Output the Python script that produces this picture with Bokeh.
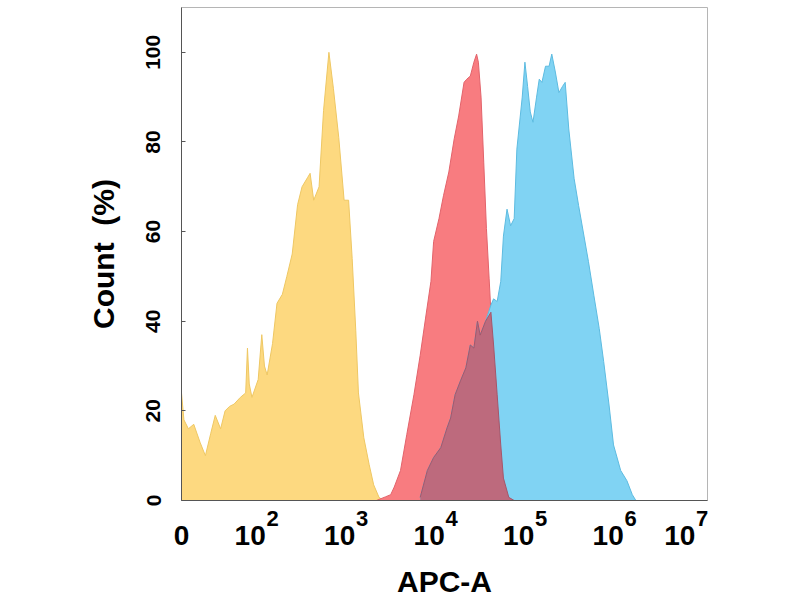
from bokeh.plotting import figure
from bokeh.models import Range1d, FixedTicker, LinearAxis
from bokeh.embed import file_html
from bokeh.resources import INLINE

# x is in decades (log10 of APC-A), y is count in % of the mode
zero_pos = 1.123
decades = [2, 3, 4, 5, 6, 7]
tick_base = "10"
tick_exps = ["2", "3", "4", "5", "6", "7"]
y_ticks = [0, 20, 40, 60, 80, 100]

# isotype / negative control (yellow)
neg_x = [1.123, 1.15, 1.20, 1.26, 1.33, 1.39, 1.45, 1.50, 1.56, 1.61, 1.66, 1.71,
         1.78, 1.84, 1.86, 1.88, 1.91, 1.98, 2.02, 2.05, 2.08, 2.14, 2.19, 2.25,
         2.30, 2.36, 2.42, 2.47, 2.53, 2.56, 2.60, 2.66, 2.71, 2.77, 2.82, 2.88,
         2.94, 2.99, 3.03, 3.07, 3.10, 3.16, 3.22, 3.27, 3.33, 3.38]
neg_y = [24, 18, 16, 17, 13, 10, 15, 19, 16, 20, 21, 21.5,
         23, 24, 34, 26, 23, 27, 37, 30, 28, 35, 44, 46,
         50, 55, 66, 70, 72, 73, 67, 70, 87, 100, 92, 81,
         67, 67, 54, 38, 24, 14, 8, 3.5, 0.7, 0]

# red population
red_x = [3.30, 3.40, 3.46, 3.50, 3.57, 3.64, 3.72, 3.79, 3.85, 3.91, 3.94, 4.00,
         4.05, 4.11, 4.17, 4.22, 4.28, 4.31, 4.35, 4.39, 4.42, 4.44, 4.47, 4.50,
         4.53, 4.56, 4.58, 4.61, 4.65, 4.69, 4.72, 4.78, 4.84]
red_y = [0, 0.8, 1.3, 3, 6.7, 14.7, 23.6, 32.4, 40.7, 48.9, 57.8, 62.9,
         68, 73.3, 80.7, 85.8, 93.3, 94, 94.7, 97.8, 99.6, 97.8, 90, 75.5,
         60.7, 49.6, 42, 34.7, 23.6, 12.4, 5, 0.7, 0]

# blue population
blue_x = [3.79, 3.87, 3.94, 4.02, 4.09, 4.13, 4.18, 4.24, 4.30, 4.35, 4.39, 4.43,
          4.46, 4.52, 4.58, 4.61, 4.65, 4.69, 4.72, 4.76, 4.80, 4.84, 4.87, 4.93,
          4.96, 4.99, 5.02, 5.05, 5.09, 5.12, 5.15, 5.19, 5.23, 5.26, 5.30, 5.34,
          5.38, 5.41, 5.45, 5.51, 5.56, 5.62, 5.67, 5.73, 5.79, 5.84, 5.90, 5.95,
          6.03, 6.10, 6.16, 6.20]
blue_y = [0.7, 6.7, 9.6, 11.8, 16.2, 18.4, 23.6, 26.7, 29.6, 34.7, 34, 40,
          36.9, 40, 43.6, 45, 44.4, 48.9, 59, 65, 61.3, 62.9, 78.4, 90,
          97.8, 92.4, 86.7, 84.4, 90, 94, 93.3, 96.9, 96.9, 99.6, 95.6, 91,
          92.4, 93.3, 82.9, 71.8, 65.8, 59, 53.3, 45.8, 38.4, 31, 21.3, 12.4,
          6.7, 4.4, 1.3, 0]

# where red and blue overlap (dark band)
both_x = [3.79, 3.87, 3.94, 4.02, 4.09, 4.13, 4.18, 4.24, 4.30, 4.35, 4.39, 4.43,
          4.46, 4.52, 4.58, 4.61, 4.65, 4.69, 4.72, 4.78, 4.84]
both_y = [0.7, 6.7, 9.6, 11.8, 16.2, 18.4, 23.6, 26.7, 29.6, 34.7, 34, 40,
          36.9, 40, 42, 34.7, 23.6, 12.4, 5, 0.7, 0]

FONT = "Liberation Sans"
X_END = 7.0

p = figure(width=800, height=600, x_range=Range1d(zero_pos, X_END), y_range=Range1d(0, 110),
           output_backend="svg", toolbar_location=None,
           min_border_left=181, min_border_right=93, min_border_top=7, min_border_bottom=97)
p.grid.visible = False
p.outline_line_color = "#b5b5b5"
p.background_fill_color = "white"

layers = [
    (neg_x, neg_y, "#fdd980", "#eec763"),
    (red_x, red_y, "#f87c80", "#e2636b"),
    (blue_x, blue_y, "#80d3f3", "#5dbbe0"),
    (both_x, both_y, "#bd6a7d", "#a5566a"),
]
for xs, ys, fill, edge in layers:
    p.varea(x=xs, y1=[0] * len(xs), y2=ys, fill_color=fill)
    p.line(xs, ys, line_color=edge, line_width=1)

# y axis
p.yaxis.ticker = FixedTicker(ticks=y_ticks)
p.yaxis.major_label_orientation = "vertical"
p.yaxis.major_label_text_font_size = "21px"
p.yaxis.major_label_standoff = 21
p.yaxis.axis_label = "Count \u00a0(%)"
p.yaxis.axis_label_text_font_size = "30px"
p.yaxis.axis_label_standoff = 24
p.yaxis.axis_line_color = "#555555"
p.yaxis.major_tick_line_color = "#555555"
p.yaxis.major_tick_in = 4
p.yaxis.major_tick_out = 0

# x axis labels: "10" with a raised exponent beside it, the pair centred on
# its decade; the last pair is pulled back inside the frame
base_pos, exp_pos = [], []
for d in decades:
    pull = 0.2 if d == X_END else 0.0
    base_pos.append(round(d - 0.11 - pull, 3))
    exp_pos.append(round(d + 0.14 - pull, 3))

main_ticks = [zero_pos] + base_pos
p.xaxis.ticker = FixedTicker(ticks=main_ticks)
p.xaxis.major_label_overrides = dict(zip(main_ticks, ["0"] + [tick_base] * len(decades)))
p.xaxis.major_label_text_font_size = "28px"
p.xaxis.major_label_standoff = 19
p.xaxis.axis_line_color = "#555555"
p.xaxis.major_tick_line_color = None

exp_axis = LinearAxis(ticker=FixedTicker(ticks=exp_pos),
                      major_label_overrides=dict(zip(exp_pos, tick_exps)),
                      major_label_text_font_size="22px",
                      major_label_standoff=-43,
                      axis_line_color=None, major_tick_line_color=None,
                      axis_label="APC-A", axis_label_text_font_size="30px",
                      axis_label_standoff=36)
p.add_layout(exp_axis, "below")

for ax in p.xaxis + p.yaxis:
    ax.major_label_text_font = FONT
    ax.major_label_text_font_style = "bold"
    ax.major_label_text_color = "black"
    ax.axis_label_text_font = FONT
    ax.axis_label_text_font_style = "bold"
    ax.axis_label_text_color = "black"
    ax.minor_tick_line_color = None

open("out.html", "w").write(file_html(p, INLINE))
